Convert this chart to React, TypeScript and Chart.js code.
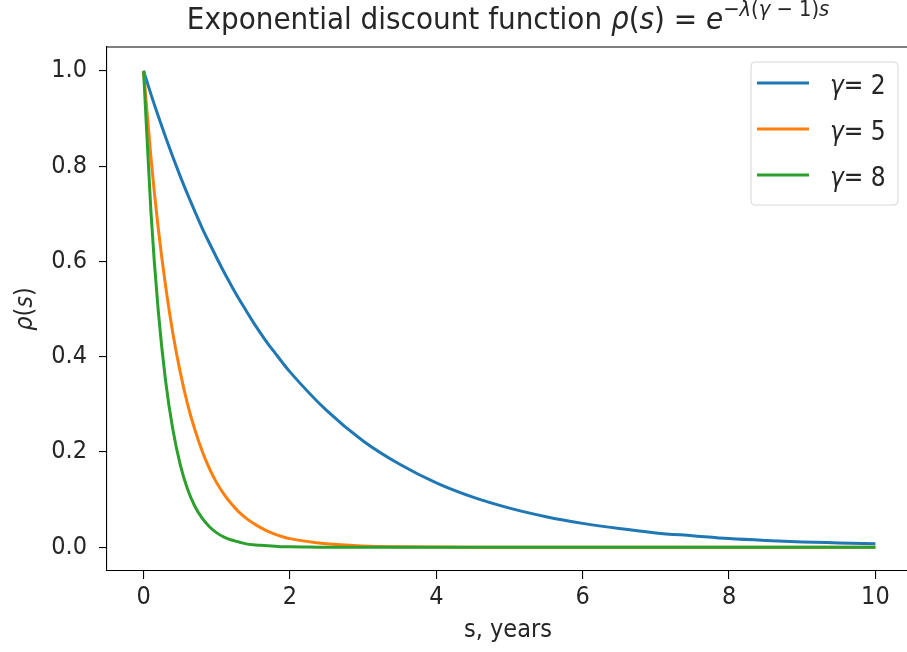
import React, { useEffect, useRef } from "react";
import { Chart, registerables } from "chart.js";

Chart.register(...registerables);

// ---- data ----
const S_YEARS = [
  0, 0.1, 0.2, 0.3, 0.4, 0.5, 0.6, 0.7, 0.8, 0.9, 1.0, 1.1, 1.2, 1.3, 1.4, 1.5, 1.6, 1.7, 1.8, 1.9, 2.0,
  2.5, 3, 3.5, 4, 4.5, 5, 5.5, 6, 6.5, 7, 7.5, 8, 8.5, 9, 9.5, 10,
];
const RHO_GAMMA2 = [
  1.0, 0.951, 0.905, 0.861, 0.819, 0.779, 0.741, 0.705, 0.67, 0.638, 0.607, 0.577, 0.549, 0.522, 0.497, 0.472,
  0.449, 0.427, 0.407, 0.387, 0.368, 0.287, 0.223, 0.174, 0.135, 0.105, 0.082, 0.064, 0.05, 0.039, 0.03, 0.024,
  0.018, 0.014, 0.011, 0.009, 0.007,
];
const RHO_GAMMA5 = [
  1.0, 0.819, 0.67, 0.549, 0.449, 0.368, 0.301, 0.247, 0.202, 0.165, 0.135, 0.111, 0.091, 0.074, 0.061, 0.05,
  0.041, 0.033, 0.027, 0.022, 0.018, 0.007, 0.0025, 0.0009, 0.0003, 0.0001, 0, 0, 0, 0, 0, 0, 0, 0, 0, 0, 0,
];
const RHO_GAMMA8 = [
  1.0, 0.705, 0.497, 0.35, 0.247, 0.174, 0.122, 0.086, 0.061, 0.043, 0.03, 0.021, 0.015, 0.011, 0.007, 0.005,
  0.004, 0.003, 0.002, 0.001, 0.001, 0, 0, 0, 0, 0, 0, 0, 0, 0, 0, 0, 0, 0, 0, 0, 0,
];
const GAMMA_LABELS = ["2", "5", "8"];
const SERIES = [RHO_GAMMA2, RHO_GAMMA5, RHO_GAMMA8];
const COLORS = ["#1f77b4", "#ff7f0e", "#2ca02c"];
const X_TICKS = [0, 2, 4, 6, 8, 10];
const Y_TICKS = [0, 0.2, 0.4, 0.6, 0.8, 1.0];
const X_LABEL = "s, years";
const TITLE_TEXT = "Exponential discount function ";

type Run = { t: string; it?: boolean; sup?: boolean };

function fontAvailable(name: string): boolean {
  const c = document.createElement("canvas");
  const ctx = c.getContext("2d")!;
  const probe = "mmmmmmwwwwwlliiAB0123";
  ctx.font = "40px monospace";
  const a = ctx.measureText(probe).width;
  ctx.font = `40px '${name}', monospace`;
  const b = ctx.measureText(probe).width;
  return Math.abs(a - b) > 0.5;
}

const CANVAS_W = 960;

export default function App() {
  const ref = useRef<HTMLCanvasElement | null>(null);

  useEffect(() => {
    document.documentElement.style.overflow = "hidden";
    document.body.style.overflow = "hidden";
    const canvas = ref.current!;
    const condensed = fontAvailable("DejaVu Sans Condensed");
    const FAMILY = condensed ? "'DejaVu Sans Condensed', 'DejaVu Sans', sans-serif" : "'DejaVu Sans', sans-serif";
    const FS = condensed ? 25 : 22.5;
    const TFS = condensed ? 31 : 28;
    const TEXT = "#262626";

    const fontOf = (size: number, it?: boolean) => `${it ? "italic " : ""}${size}px ${FAMILY}`;

    const drawRuns = (
      ctx: CanvasRenderingContext2D,
      runs: Run[],
      x: number,
      y: number,
      size: number,
      align: "center" | "left"
    ) => {
      const supSize = size * 0.7;
      const rise = size * 0.42;
      let total = 0;
      const widths = runs.map((r) => {
        ctx.font = fontOf(r.sup ? supSize : size, r.it);
        const w = ctx.measureText(r.t).width;
        total += w;
        return w;
      });
      let cx = align === "center" ? x - total / 2 : x;
      ctx.textAlign = "left";
      ctx.textBaseline = "alphabetic";
      runs.forEach((r, i) => {
        ctx.font = fontOf(r.sup ? supSize : size, r.it);
        ctx.fillText(r.t, cx, r.sup ? y - rise : y);
        cx += widths[i];
      });
    };

    const decor = {
      id: "decor",
      afterDraw(chart: any) {
        const ctx: CanvasRenderingContext2D = chart.ctx;
        const a = chart.chartArea;
        ctx.save();
        // top spine (right spine lies outside the visible picture)
        ctx.strokeStyle = "#000";
        ctx.lineWidth = 1.1;
        ctx.beginPath();
        ctx.moveTo(a.left, a.top);
        ctx.lineTo(a.right, a.top);
        ctx.stroke();

        ctx.fillStyle = TEXT;
        // title
        const titleRuns: Run[] = [
          { t: TITLE_TEXT },
          { t: "ρ", it: true },
          { t: "(" },
          { t: "s", it: true },
          { t: ")" },
          { t: " = " },
          { t: "e", it: true },
          { t: "−", sup: true },
          { t: "λ", it: true, sup: true },
          { t: "(", sup: true },
          { t: "γ", it: true, sup: true },
          { t: " − 1", sup: true },
          { t: ")", sup: true },
          { t: "s", it: true, sup: true },
        ];
        drawRuns(ctx, titleRuns, 508, 29, TFS, "center");

        // x label
        ctx.font = fontOf(FS);
        ctx.textAlign = "center";
        ctx.textBaseline = "alphabetic";
        ctx.fillText(X_LABEL, 508, 637);

        // y label
        ctx.save();
        ctx.translate(32, (a.top + a.bottom) / 2);
        ctx.rotate(-Math.PI / 2);
        drawRuns(ctx, [{ t: "ρ", it: true }, { t: "(" }, { t: "s", it: true }, { t: ")" }], 0, 0, FS, "center");
        ctx.restore();

        // legend
        const bx = 751, by = 62, bw = 147, bh = 143, r = 4;
        ctx.beginPath();
        ctx.moveTo(bx + r, by);
        ctx.arcTo(bx + bw, by, bx + bw, by + bh, r);
        ctx.arcTo(bx + bw, by + bh, bx, by + bh, r);
        ctx.arcTo(bx, by + bh, bx, by, r);
        ctx.arcTo(bx, by, bx + bw, by, r);
        ctx.closePath();
        ctx.fillStyle = "rgba(255,255,255,0.8)";
        ctx.fill();
        ctx.strokeStyle = "#d6d6d6";
        ctx.lineWidth = 1;
        ctx.stroke();
        GAMMA_LABELS.forEach((g, i) => {
          const ly = 83 + i * 46;
          ctx.strokeStyle = COLORS[i];
          ctx.lineWidth = 3;
          ctx.beginPath();
          ctx.moveTo(757, ly);
          ctx.lineTo(809, ly);
          ctx.stroke();
          ctx.fillStyle = TEXT;
          drawRuns(ctx, [{ t: "γ", it: true }, { t: "= " + g }], 830, ly + 11, FS + 1, "left");
        });
        ctx.restore();
      },
    };

    const datasets = SERIES.map((vals, i) => ({
      label: "γ = " + GAMMA_LABELS[i],
      data: S_YEARS.map((s, j) => ({ x: s, y: vals[j] })),
      borderColor: COLORS[i],
      backgroundColor: COLORS[i],
      borderWidth: 3,
      pointRadius: 0,
      cubicInterpolationMode: "monotone" as const,
      order: 2 - i,
    }));

    const tickFont = { family: FAMILY, size: FS };

    const chart = new Chart(canvas, {
      type: "line",
      data: { datasets },
      plugins: [decor],
      options: {
        animation: false,
        responsive: false,
        devicePixelRatio: 1,
        events: [],
        layout: { padding: { left: 0, top: 47, right: CANVAS_W - 912, bottom: 0 } },
        plugins: { legend: { display: false }, tooltip: { enabled: false }, title: { display: false } },
        scales: {
          x: {
            type: "linear",
            min: -0.5,
            max: 10.5,
            afterBuildTicks: (s: any) => {
              s.ticks = X_TICKS.map((v) => ({ value: v }));
            },
            afterFit: (s: any) => {
              s.height = 81;
            },
            grid: { drawOnChartArea: false, drawTicks: true, tickLength: 8, color: "#000", lineWidth: 1.1 },
            border: { display: true, color: "#000", width: 1.1 },
            ticks: {
              font: tickFont,
              color: TEXT,
              padding: 3,
              maxRotation: 0,
              autoSkip: false,
              callback: (v: any) => String(v),
            },
          },
          y: {
            type: "linear",
            min: -0.05,
            max: 1.05,
            afterBuildTicks: (s: any) => {
              s.ticks = Y_TICKS.map((v) => ({ value: v }));
            },
            afterFit: (s: any) => {
              s.width = 107;
            },
            grid: { drawOnChartArea: false, drawTicks: true, tickLength: 8, color: "#000", lineWidth: 1.1 },
            border: { display: true, color: "#000", width: 1.1 },
            ticks: {
              font: tickFont,
              color: TEXT,
              padding: 12,
              autoSkip: false,
              callback: (v: any) => Number(v).toFixed(1),
            },
          },
        },
      },
    });
    return () => chart.destroy();
  }, []);

  return (
    <div
      style={{
        position: "fixed",
        left: 0,
        top: 0,
        width: 907,
        height: 652,
        overflow: "hidden",
        background: "#fff",
      }}
    >
      <canvas
        ref={ref}
        width={CANVAS_W}
        height={652}
        style={{ width: CANVAS_W, height: 652, display: "block" }}
      />
    </div>
  );
}
